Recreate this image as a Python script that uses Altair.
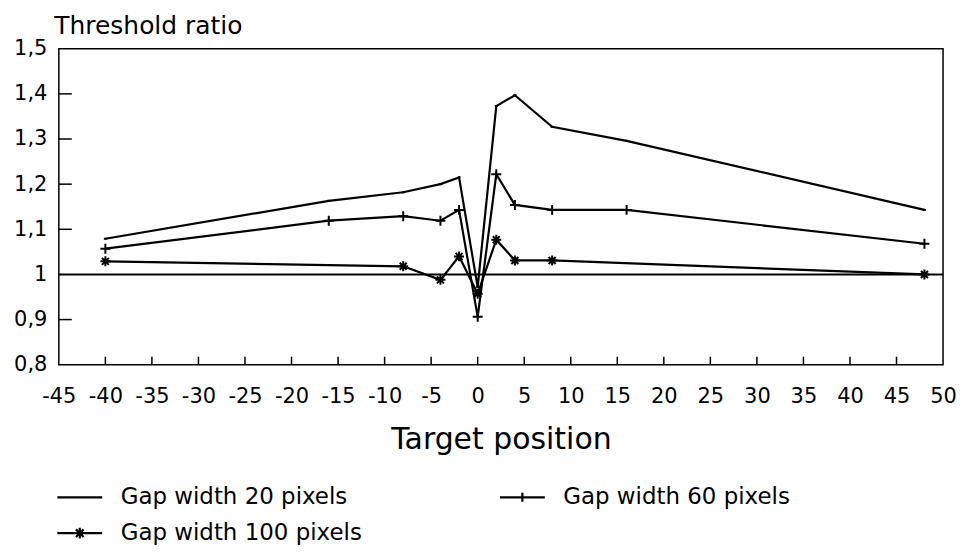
import altair as alt
import pandas as pd

# ---- data ----
series_names = ["Gap width 20 pixels", "Gap width 60 pixels", "Gap width 100 pixels"]
legend_order = ["Gap width 20 pixels", "Gap width 100 pixels", "Gap width 60 pixels"]

pos_20 = [-40, -16, -8, -4, -2, 0, 2, 4, 8, 16, 48]
ratio_20 = [1.079, 1.163, 1.182, 1.200, 1.215, 0.972, 1.373, 1.397, 1.327, 1.296, 1.143]

pos_60 = [-40, -16, -8, -4, -2, 0, 2, 4, 8, 16, 48]
ratio_60 = [1.057, 1.119, 1.129, 1.119, 1.143, 0.906, 1.222, 1.154, 1.143, 1.143, 1.068]

pos_100 = [-40, -8, -4, -2, 0, 2, 4, 8, 48]
ratio_100 = [1.029, 1.018, 0.988, 1.040, 0.957, 1.077, 1.031, 1.031, 1.000]

x_tick_values = list(range(-45, 51, 5))
y_tick_values = [0.8, 0.9, 1.0, 1.1, 1.2, 1.3, 1.4, 1.5]
inner_x_ticks = list(range(-40, 50, 5))
inner_y_ticks = [0.9, 1.1, 1.2, 1.3, 1.4]
reference_level = [1.0]

frames = []
for name, xs, ys in [(series_names[0], pos_20, ratio_20),
                     (series_names[1], pos_60, ratio_60),
                     (series_names[2], pos_100, ratio_100)]:
    frames.append(pd.DataFrame({"position": xs, "ratio": ys, "series": name}))
df = pd.concat(frames, ignore_index=True)

W, H = 887, 317
FONT = "DejaVu Sans"

marker_paths = [
    "M-0.3,0L0.3,0",
    "M-1,0L1,0M0,-1L0,1",
    "M-1,0L1,0M0,-1L0,1M-0.7,-0.7L0.7,0.7M-0.7,0.7L0.7,-0.7",
]
legend_path_by_name = {
    "Gap width 20 pixels": "M-1,0L1,0",
    "Gap width 60 pixels": "M-1,0L1,0M0,-0.2L0,0.2",
    "Gap width 100 pixels": "M-1,0L1,0M0,-0.24L0,0.24M-0.17,-0.17L0.17,0.17M-0.17,0.17L0.17,-0.17",
}
legend_paths = [legend_path_by_name[n] for n in legend_order]

x_enc = alt.X(
    "position:Q",
    scale=alt.Scale(domain=[-45, 50], nice=False, zero=False),
    axis=alt.Axis(
        values=x_tick_values, title="Target position", labelExpr="'' + datum.value",
        ticks=False, domain=False, grid=False, labelFont=FONT, labelFontSize=21,
        labelColor="black", labelPadding=21, labelFlush=False, labelOverlap=False,
        titleFont=FONT, titleFontSize=30, titleFontWeight="normal", titleColor="black",
        titlePadding=18,
    ),
)
y_enc = alt.Y(
    "ratio:Q",
    scale=alt.Scale(domain=[0.8, 1.5], nice=False, zero=False),
    axis=alt.Axis(
        values=y_tick_values, title="Threshold ratio",
        labelExpr="replace('' + datum.value, '.', ',')",
        ticks=False, domain=False, grid=False, labelFont=FONT, labelFontSize=21,
        labelColor="black", labelPadding=12, labelFlush=False, labelOverlap=False,
        titleFont=FONT, titleFontSize=25, titleFontWeight="normal", titleColor="black",
        titleAngle=0, titleAlign="left", titleBaseline="alphabetic", titleX=-5, titleY=-15,
    ),
)

base = alt.Chart(df)

ref = alt.Chart(pd.DataFrame({"ratio": reference_level})).mark_rule(
    color="black", strokeWidth=2).encode(y=alt.Y("ratio:Q"))

lines = base.mark_line(color="black", strokeWidth=2.2).encode(
    x=x_enc, y=y_enc, detail="series:N", order="position:Q")

markers = base.mark_point(filled=False, color="black", strokeWidth=2, opacity=1).encode(
    x="position:Q", y="ratio:Q",
    shape=alt.Shape("series:N", scale=alt.Scale(domain=series_names, range=marker_paths),
                    legend=None),
    size=alt.value(100),
)

legend_layer = base.mark_point(filled=False, color="black", strokeWidth=2).encode(
    x="position:Q", y="ratio:Q",
    opacity=alt.value(0),
    shape=alt.Shape(
        "series:N",
        scale=alt.Scale(domain=legend_order, range=legend_paths),
        legend=alt.Legend(
            title=None, orient="none", legendX=-3, legendY=426, columns=2,
            symbolSize=2025, symbolStrokeWidth=2.2, symbolStrokeColor="black",
            symbolFillColor="transparent", symbolOpacity=1,
            labelFont=FONT, labelFontSize=23, labelColor="black", labelOffset=17,
            labelLimit=400, columnPadding=133, rowPadding=0, padding=0,
        ),
    ),
)

xticks = alt.Chart(pd.DataFrame({"position": inner_x_ticks})).mark_rule(
    color="black", strokeWidth=1.5).encode(
    x="position:Q", y=alt.value(H), y2=alt.value(H - 8))

yticks = alt.Chart(pd.DataFrame({"ratio": inner_y_ticks})).mark_rule(
    color="black", strokeWidth=1.5).encode(
    y="ratio:Q", x=alt.value(0), x2=alt.value(13))

chart = alt.layer(lines, ref, markers, legend_layer, xticks, yticks).resolve_scale(
    shape="independent"
).properties(
    width=W, height=H,
    padding={"left": 5, "top": 5, "right": 2, "bottom": 0},
    background="white",
).configure_view(stroke="black", strokeWidth=1.5)

chart.save("out.html", embed_options={"renderer": "svg", "actions": False})
